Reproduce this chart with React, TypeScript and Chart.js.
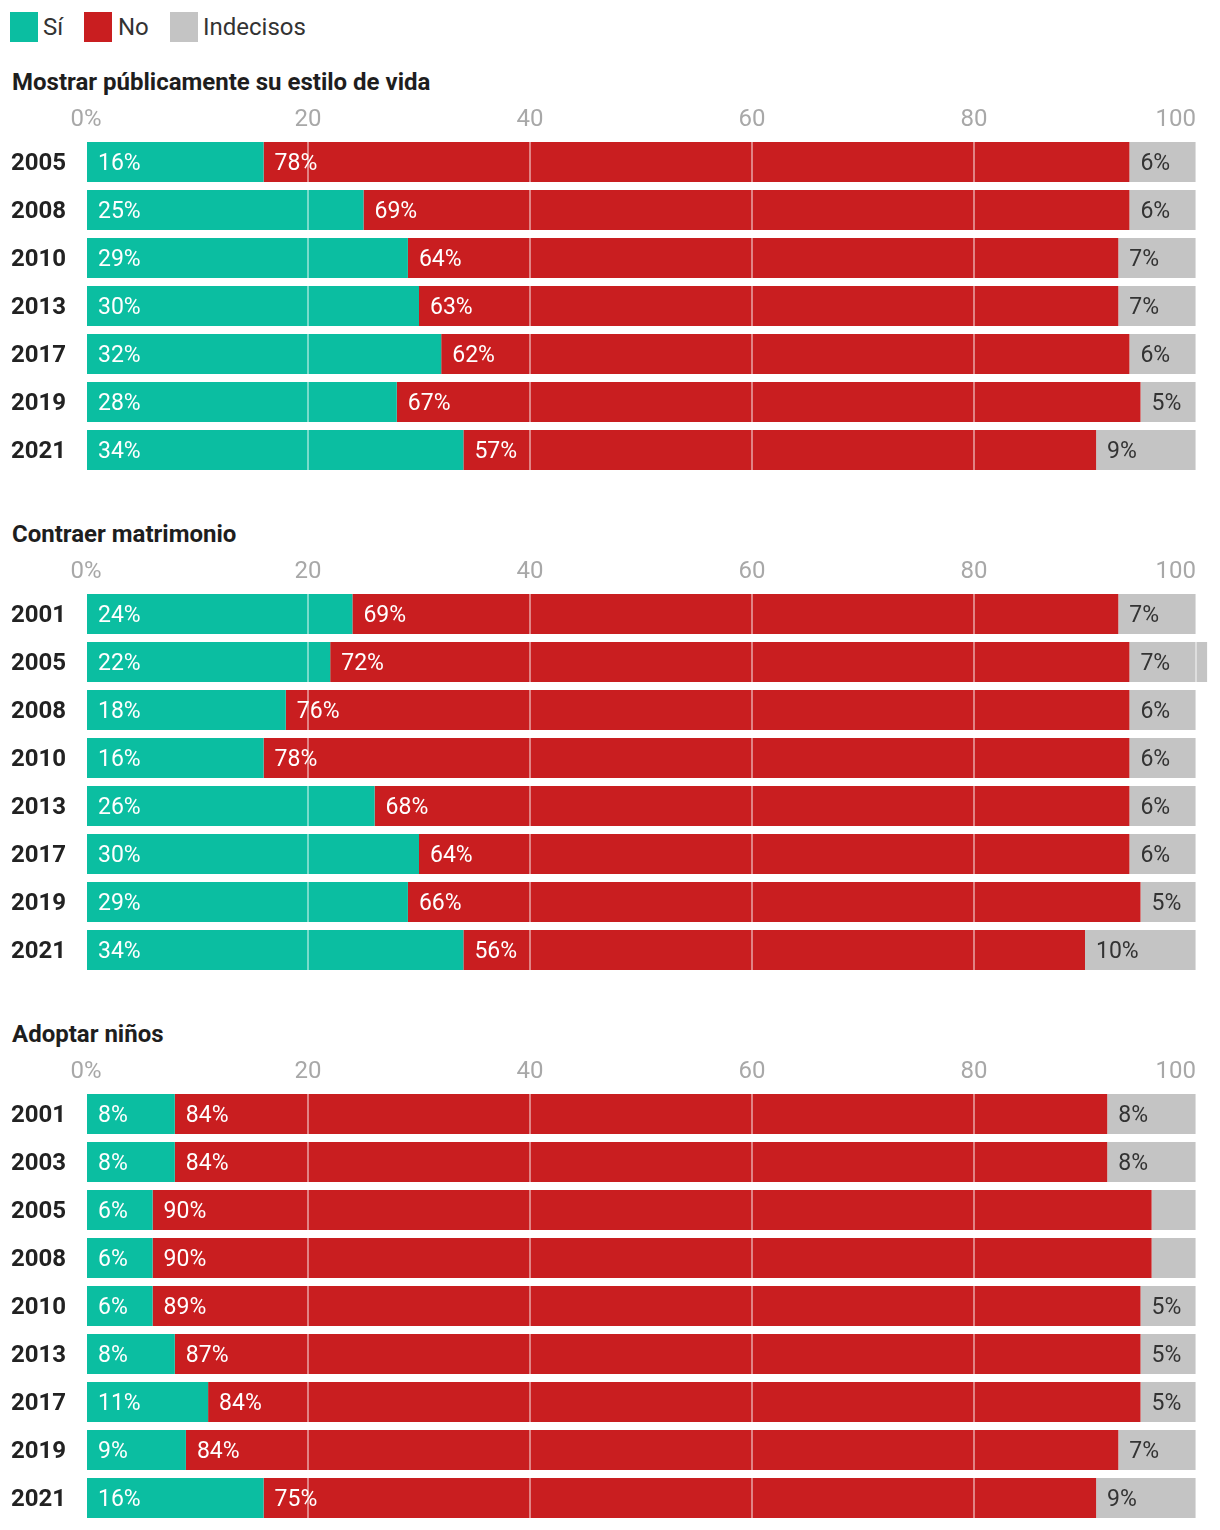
import React, { useEffect, useRef } from "react";
import { Chart, registerables } from "chart.js";
Chart.register(...registerables);

const seriesNames = ["Sí", "No", "Indecisos"];
const seriesColors = ["#0bbea1", "#c91e20", "#c4c4c4"];
const valueLabelColors = ["#ffffff", "#ffffff", "#333333"];
const xTickValues = [0, 20, 40, 60, 80, 100];
const xTickLabels = ["0%", "20", "40", "60", "80", "100"];

const title1 = "Mostrar públicamente su estilo de vida";
const years1 = ["2005", "2008", "2010", "2013", "2017", "2019", "2021"];
const si1 = [16, 25, 29, 30, 32, 28, 34];
const no1 = [78, 69, 64, 63, 62, 67, 57];
const ind1 = [6, 6, 7, 7, 6, 5, 9];

const title2 = "Contraer matrimonio";
const years2 = ["2001", "2005", "2008", "2010", "2013", "2017", "2019", "2021"];
const si2 = [24, 22, 18, 16, 26, 30, 29, 34];
const no2 = [69, 72, 76, 78, 68, 64, 66, 56];
const ind2 = [7, 7, 6, 6, 6, 6, 5, 10];

const title3 = "Adoptar niños";
const years3 = ["2001", "2003", "2005", "2008", "2010", "2013", "2017", "2019", "2021"];
const si3 = [8, 8, 6, 6, 6, 8, 11, 9, 16];
const no3 = [84, 84, 90, 90, 89, 87, 84, 84, 75];
const ind3 = [8, 8, 4, 4, 5, 5, 5, 7, 9];

const FONT = "Roboto, 'Noto Sans', sans-serif";

const valueLabelPlugin = {
  id: "valueLabels",
  afterDatasetsDraw(chart: any) {
    const ctx = chart.ctx;
    ctx.save();
    ctx.font = `23px ${FONT}`;
    ctx.textBaseline = "middle";
    ctx.textAlign = "left";
    chart.data.datasets.forEach((ds: any, i: number) => {
      const meta = chart.getDatasetMeta(i);
      meta.data.forEach((bar: any, j: number) => {
        const v = ds.data[j];
        if (v < 5) return;
        const p = bar.getProps(["x", "y", "base"], true);
        const left = Math.min(p.x, p.base);
        ctx.fillStyle = valueLabelColors[i];
        ctx.fillText(v + "%", left + 11, p.y + 2);
      });
    });
    ctx.restore();
  },
};

const xTickPlugin = {
  id: "xTicksTop",
  afterDraw(chart: any) {
    const ctx = chart.ctx;
    const scale = chart.scales.x;
    const top = chart.chartArea.top;
    ctx.save();
    ctx.font = `24px ${FONT}`;
    ctx.fillStyle = "#a8a8a8";
    ctx.textBaseline = "middle";
    xTickValues.forEach((v, k) => {
      const x = scale.getPixelForValue(v);
      ctx.textAlign = k === xTickValues.length - 1 ? "right" : "center";
      ctx.fillText(xTickLabels[k], x, top - 18);
    });
    ctx.restore();
  },
};

function Panel(props: { years: string[]; si: number[]; no: number[]; ind: number[]; top: number; height: number }) {
  const ref = useRef<HTMLCanvasElement>(null);
  useEffect(() => {
    if (!ref.current) return;
    const values = [props.si, props.no, props.ind];
    const chart = new Chart(ref.current, {
      type: "bar",
      data: {
        labels: props.years,
        datasets: values.map((d, i) => ({
          label: seriesNames[i],
          data: d,
          backgroundColor: seriesColors[i],
          borderWidth: 0,
          barPercentage: 1,
          categoryPercentage: 40 / 48,
          clip: false as any,
        })),
      },
      options: {
        indexAxis: "y",
        responsive: false,
        animation: false,
        events: [],
        layout: { autoPadding: false, padding: { top: 38, right: 16, left: 0, bottom: 0 } },
        plugins: { legend: { display: false }, tooltip: { enabled: false } },
        scales: {
          x: {
            position: "top",
            stacked: true,
            min: 0,
            max: 100,
            z: 1,
            ticks: { display: false, stepSize: 20 },
            grid: { color: "rgba(255,255,255,0.45)", drawTicks: false, lineWidth: 2, z: 1 },
            border: { display: false },
            afterFit: (s: any) => {
              s.height = 0;
              s.paddingLeft = 0;
              s.paddingRight = 0;
              s.paddingTop = 0;
              s.paddingBottom = 0;
            },
          },
          y: {
            stacked: true,
            grid: { display: false, drawTicks: false },
            border: { display: false },
            ticks: { color: "#222222", font: { family: FONT, size: 24, weight: "bold" }, padding: 20, labelOffset: 2 },
            afterFit: (s: any) => {
              s.width = 78;
              s.paddingTop = 0;
              s.paddingBottom = 0;
              s.paddingLeft = 0;
              s.paddingRight = 0;
            },
          },
        },
      } as any,
      plugins: [valueLabelPlugin, xTickPlugin],
    });
    return () => chart.destroy();
  }, []);
  return (
    <canvas
      ref={ref}
      width={1204}
      height={props.height}
      style={{ position: "absolute", left: 0, top: props.top, width: 1204, height: props.height, display: "block" }}
    />
  );
}

const titleStyle = (top: number): React.CSSProperties => ({
  position: "absolute",
  left: 4,
  top,
  lineHeight: "30px",
  fontSize: 24,
  fontWeight: "bold",
  color: "#1e1e1e",
  fontFamily: FONT,
  whiteSpace: "nowrap",
});

export default function App() {
  const legendX = [
    { sq: 2, tx: 35 },
    { sq: 76, tx: 110 },
    { sq: 162, tx: 195 },
  ];
  return (
    <div style={{ position: "relative", width: 1204, height: 1522, fontFamily: FONT }}>
      {seriesNames.map((n, i) => (
        <React.Fragment key={n}>
          <div
            style={{
              position: "absolute",
              left: legendX[i].sq,
              top: 4,
              width: 28,
              height: 30,
              background: seriesColors[i],
            }}
          />
          <div
            style={{
              position: "absolute",
              left: legendX[i].tx,
              top: 4,
              lineHeight: "30px",
              fontSize: 24,
              color: "#333",
              whiteSpace: "nowrap",
            }}
          >
            {n}
          </div>
        </React.Fragment>
      ))}
      <div style={titleStyle(59)}>{title1}</div>
      <Panel years={years1} si={si1} no={no1} ind={ind1} top={92} height={374} />
      <div style={titleStyle(511)}>{title2}</div>
      <Panel years={years2} si={si2} no={no2} ind={ind2} top={544} height={422} />
      <div style={titleStyle(1011)}>{title3}</div>
      <Panel years={years3} si={si3} no={no3} ind={ind3} top={1044} height={470} />
    </div>
  );
}
